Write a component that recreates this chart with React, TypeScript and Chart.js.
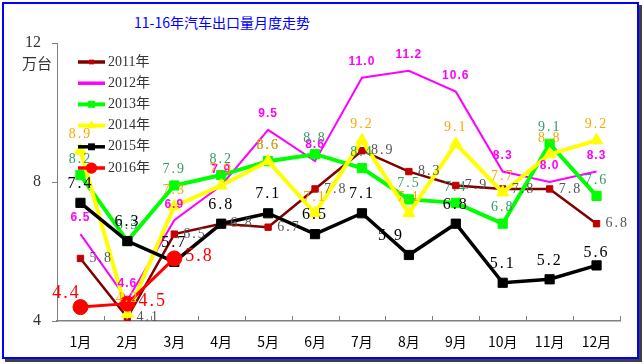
import React, { useEffect, useRef } from "react";
import { Chart, registerables } from "chart.js";
Chart.register(...registerables);

const months = ["1月", "2月", "3月", "4月", "5月", "6月", "7月", "8月", "9月", "10月", "11月", "12月"];
const seriesNames = ["2011年", "2012年", "2013年", "2014年", "2015年", "2016年"];
const s2011 = [5.8, 4.1, 6.5, 6.8, 6.7, 7.8, 8.9, 8.3, 7.9, 7.8, 7.8, 6.8];
const s2012 = [6.5, 4.6, 6.9, 7.9, 9.5, 8.6, 11.0, 11.2, 10.6, 8.3, 8.0, 8.3];
const s2013 = [8.2, 6.3, 7.9, 8.2, 8.6, 8.8, 8.4, 7.5, 7.4, 6.8, 9.1, 7.6];
const s2014 = [8.9, 4.2, 7.3, 7.9, 8.6, 7.1, 9.2, 7.1, 9.1, 7.7, 8.8, 9.2];
const s2015 = [7.4, 6.3, 5.7, 6.8, 7.1, 6.5, 7.1, 5.9, 6.8, 5.1, 5.2, 5.6];
const s2016 = [4.4, 4.5, 5.8];
const yTicks = [4, 8, 12];
const yUnit = "万台";
const titleText = "11-16年汽车出口量月度走势";

const seriesData = [s2011, s2012, s2013, s2014, s2015, s2016];

const seriesStyles = [
  { color: "#800000", width: 2.5, point: "rect", radius: 4.5, pointColor: "#C00000" },
  { color: "#FF00FF", width: 2, point: "none", radius: 0, pointColor: "#FF00FF" },
  { color: "#00FF00", width: 4, point: "rect", radius: 6.5, pointColor: "#00FF00" },
  { color: "#FFFF00", width: 4, point: "triangle", radius: 7, pointColor: "#FFFF00" },
  { color: "#000000", width: 3.5, point: "rect", radius: 6.5, pointColor: "#000000" },
  { color: "#FF0000", width: 3, point: "circle", radius: 7.5, pointColor: "#FF0000" },
];

type LabelStyle = {
  font: string; color: string; align: CanvasTextAlign; dx: number; dy: number; spacing: string;
  overrides?: Record<number, Partial<{ align: CanvasTextAlign; dx: number; dy: number }>>;
};

const labelStyles: LabelStyle[] = [
  { font: '14px "Liberation Serif"', color: "#555555", align: "left", dx: 9, dy: 0, spacing: "2px" },
  { font: 'bold 12px "Liberation Sans"', color: "#FF00FF", align: "center", dx: 0, dy: -16, spacing: "1px" },
  { font: '14px "Liberation Serif"', color: "#339966", align: "center", dx: 0, dy: -16, spacing: "2px" },
  { font: '14px "Liberation Serif"', color: "#FFA500", align: "center", dx: 0, dy: -16, spacing: "2px" },
  { font: '16px "Liberation Serif"', color: "#000000", align: "center", dx: 0, dy: -19, spacing: "2px", overrides: { 7: { dx: -18 }, 11: { dy: -13 } } },
  { font: '18px "Liberation Serif"', color: "#FF0000", align: "left", dx: 11, dy: -2, spacing: "2px", overrides: { 0: { align: "center", dx: -14, dy: -14 } } },
];

function drawMarker(ctx: CanvasRenderingContext2D, kind: string, x: number, y: number, r: number, color: string) {
  ctx.fillStyle = color;
  ctx.beginPath();
  if (kind === "rect") {
    const s = Math.SQRT1_2 * r;
    ctx.rect(x - s, y - s, 2 * s, 2 * s);
  } else if (kind === "circle") {
    ctx.arc(x, y, r, 0, Math.PI * 2);
  } else if (kind === "triangle") {
    ctx.moveTo(x, y - r);
    ctx.lineTo(x + r * 0.866, y + r * 0.5);
    ctx.lineTo(x - r * 0.866, y + r * 0.5);
    ctx.closePath();
  } else {
    return;
  }
  ctx.fill();
}

const extrasPlugin = {
  id: "extras",
  afterDatasetsDraw(chart: any) {
    const ctx: CanvasRenderingContext2D = chart.ctx;
    const xs = chart.scales.x;
    const ys = chart.scales.y;
    const area = chart.chartArea;
    ctx.save();
    ctx.strokeStyle = "#808080";
    ctx.lineWidth = 1;
    for (let k = 1; k <= months.length; k++) {
      const x = Math.round(xs.getPixelForValue(k - 0.5)) + 0.5;
      ctx.beginPath();
      ctx.moveTo(x, area.bottom);
      ctx.lineTo(x, area.bottom - 5);
      ctx.stroke();
    }
    ctx.restore();

    ctx.save();
    ctx.font = '15px "Noto Sans CJK SC"';
    ctx.fillStyle = "#333333";
    ctx.textAlign = "center";
    ctx.textBaseline = "middle";
    ctx.fillText(yUnit, 37, ys.getPixelForValue(12) + 20);
    ctx.restore();

    chart.data.datasets.forEach((ds: any, i: number) => {
      const meta = chart.getDatasetMeta(i);
      const st = labelStyles[i];
      meta.data.forEach((pt: any, j: number) => {
        const v = ds.data[j];
        if (v == null) return;
        const o = { ...st, ...((st.overrides && st.overrides[j]) || {}) };
        ctx.save();
        ctx.font = o.font;
        ctx.fillStyle = o.color;
        ctx.textAlign = o.align;
        ctx.textBaseline = "middle";
        (ctx as any).letterSpacing = o.spacing;
        ctx.fillText(Number(v).toFixed(1), pt.x + o.dx, pt.y + o.dy);
        ctx.restore();
      });
    });
  },
  afterDraw(chart: any) {
    const ctx: CanvasRenderingContext2D = chart.ctx;
    const area = chart.chartArea;
    const x0 = area.left + 21;
    const x1 = area.left + 48;
    chart.data.datasets.forEach((ds: any, i: number) => {
      const st = seriesStyles[i];
      const y = area.top + 19 + i * 21.2;
      ctx.save();
      ctx.strokeStyle = st.color;
      ctx.lineWidth = Math.max(st.width, 3.5);
      ctx.beginPath();
      ctx.moveTo(x0, y);
      ctx.lineTo(x1, y);
      ctx.stroke();
      drawMarker(ctx, st.point, (x0 + x1) / 2, y, st.radius * 0.75, st.pointColor);
      ctx.font = '14px "Liberation Serif", "Noto Sans CJK SC"';
      ctx.fillStyle = "#333333";
      ctx.textAlign = "left";
      ctx.textBaseline = "middle";
      ctx.fillText(ds.label, x1 + 3, y);
      ctx.restore();
    });
  },
};

export default function App() {
  const ref = useRef<HTMLCanvasElement>(null);
  useEffect(() => {
    if (!ref.current) return;
    const datasets = seriesData.map((d, i) => {
      const st = seriesStyles[i];
      return {
        label: seriesNames[i],
        data: d,
        borderColor: st.color,
        backgroundColor: st.pointColor,
        borderWidth: st.width,
        pointStyle: st.point === "none" ? "circle" : st.point,
        pointRadius: st.radius,
        pointBackgroundColor: st.pointColor,
        pointBorderColor: st.pointColor,
        pointBorderWidth: 1,
        tension: 0,
        fill: false,
        order: seriesData.length - i,
      };
    });
    const chart = new Chart(ref.current, {
      type: "line",
      data: { labels: months, datasets },
      options: {
        animation: false,
        responsive: false,
        maintainAspectRatio: false,
        layout: { padding: { left: 0, right: 24, top: 43, bottom: 0 } },
        plugins: { legend: { display: false }, tooltip: { enabled: false }, title: { display: false } },
        scales: {
          x: {
            type: "category",
            offset: true,
            grid: { display: false },
            border: { display: true, color: "#808080", width: 1.5 },
            ticks: { font: { family: '"Noto Sans CJK SC"', size: 14 }, color: "#000000", padding: 4, maxRotation: 0, autoSkip: false },
            afterFit: (s: any) => { s.height = 43; },
          },
          y: {
            min: 4,
            max: 12,
            afterBuildTicks: (s: any) => { s.ticks = yTicks.map((v) => ({ value: v })); },
            grid: { drawOnChartArea: false, drawTicks: true, tickLength: 5, color: "#808080" },
            border: { display: true, color: "#808080", width: 1 },
            ticks: { font: { family: '"Liberation Serif"', size: 16 }, color: "#333333", padding: 11 },
            afterFit: (s: any) => { s.width = 57; },
          },
        },
      },
      plugins: [extrasPlugin],
    } as any);
    return () => chart.destroy();
  }, []);

  return (
    <div style={{ position: "absolute", left: 0, top: 0, width: 644, height: 364, background: "#fff" }}>
      <div style={{ position: "absolute", left: 2, top: 2, width: 633, height: 353, border: "2px solid #0000FF", boxShadow: "3px 3px 0 #404040", background: "#fff" }} />
      <div style={{ position: "absolute", left: 0, top: 13, width: 444, textAlign: "center", font: '14px "Noto Sans CJK SC"', lineHeight: "18px", color: "#0000FF", whiteSpace: "nowrap" }}>{titleText}</div>
      <canvas ref={ref} width={644} height={364} style={{ position: "absolute", left: 0, top: 0, width: 644, height: 364 }} />
    </div>
  );
}
